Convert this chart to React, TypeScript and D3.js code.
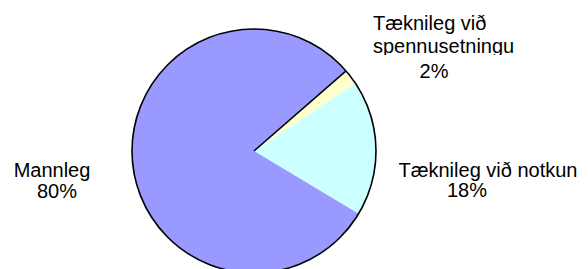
import React from "react";
import * as d3 from "d3";

// flokkar og hlutföll (%)
const categories = ["Tæknileg við spennusetningu", "Tæknileg við notkun", "Mannleg"];
const values = [2, 18, 80];
const colors = ["#FFFFCC", "#CCFFFF", "#9999FF"];

const W = 588;
const H = 269;
const cx = 254;
const cy = 151;
const r = 122;
const startDeg = 49;

const App = () => {
  const pie = d3
    .pie<number>()
    .sort(null)
    .startAngle((startDeg * Math.PI) / 180)
    .endAngle((startDeg * Math.PI) / 180 + 2 * Math.PI);
  const arcs = pie(values);
  const arc = d3.arc<d3.PieArcDatum<number>>().innerRadius(0).outerRadius(r);

  // svarta línan milli Mannleg og spennusetningu
  const a0 = arcs[0].startAngle;
  const lx = Math.sin(a0) * r;
  const ly = -Math.cos(a0) * r;

  const font = { fontFamily: "'Liberation Sans', Arial, sans-serif", fontSize: 20, fill: "#000" };

  return (
    <svg width={W} height={H} style={{ position: "absolute", left: 0, top: 0, background: "#fff" }}>
      <defs>
        {/* neðsti hluti 2. línu er skorinn af í frumritinu */}
        <clipPath id="clip-spenn">
          <rect x={360} y={34} width={228} height={21} />
        </clipPath>
      </defs>
      <g transform={`translate(${cx},${cy})`}>
        {arcs.map((d, i) => (
          <path key={categories[i]} d={arc(d) || ""} fill={colors[i]} stroke="none" />
        ))}
        <circle r={r} fill="none" stroke="#000" strokeWidth={1.6} />
        <line x1={0} y1={0} x2={lx} y2={ly} stroke="#000" strokeWidth={1.6} />
      </g>
      <g style={font}>
        <text x={373} y={30}>Tæknileg við</text>
        <text x={373} y={53} clipPath="url(#clip-spenn)">spennusetningu</text>
        <text x={434} y={78} textAnchor="middle">{values[0]}%</text>

        <text x={488} y={177} textAnchor="middle">Tæknileg við notkun</text>
        <text x={467} y={197} textAnchor="middle">{values[1]}%</text>

        <text x={52} y={177} textAnchor="middle">Mannleg</text>
        <text x={57} y={198} textAnchor="middle">{values[2]}%</text>
      </g>
    </svg>
  );
};

export default App;
